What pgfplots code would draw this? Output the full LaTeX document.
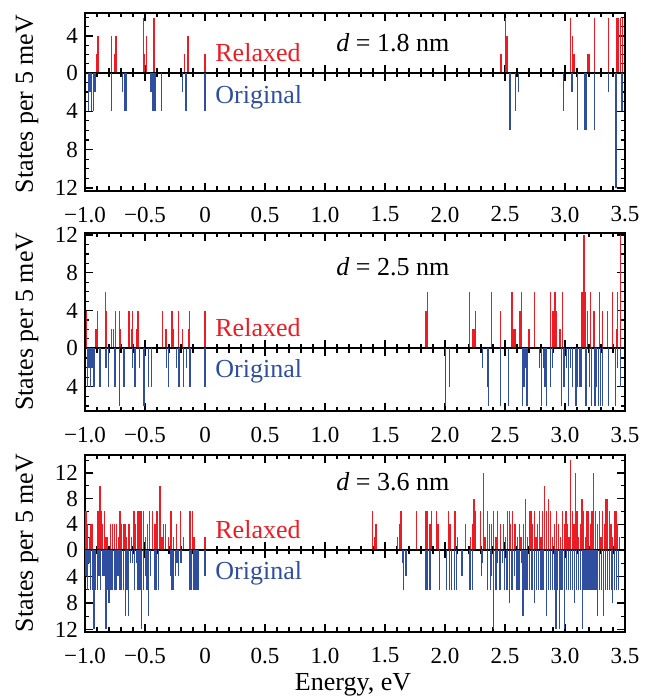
\documentclass[border=0pt]{standalone}
\usepackage{fontspec}
\setmainfont{Liberation Serif}
\usepackage{pgfplots}
\pgfplotsset{compat=1.18}
\definecolor{relred}{RGB}{236,28,36}
\definecolor{origblue}{RGB}{48,78,160}

\pgfplotsset{
  panel/.style={
    scale only axis, width=270pt,
    xmin=-1, xmax=3.5,
    xtick={-1,-0.5,0,0.5,1,1.5,2,2.5,3,3.5},
    minor x tick num=4,
    tick align=inside,
    major tick length=4pt, minor tick length=2.2pt,
    every tick/.style={black, line width=0.6pt},
    axis line style={line width=1pt},
    tick label style={font=\fontsize{11.5}{13}\selectfont},
    clip=true,
  },
  toppanel/.style={panel, anchor=south west, xticklabels={}},
  botpanel/.style={panel, anchor=north west, ymax=0,
    xticklabels={−1.0,−0.5,0,0.5,1.0,1.5,2.0,2.5,3.0,3.5},
    xticklabel style={yshift=-4.5pt}},
  red spikes/.style={ycomb, no marks, relred, line width=0.6pt},
  blue spikes/.style={ycomb, no marks, origblue, line width=0.6pt},
}

\begin{document}
\begin{tikzpicture}
\path[use as bounding box] (-42.5pt,0pt) rectangle (285pt,-349.5pt);

% ---- d = 1.8 nm ----
\begin{axis}[toppanel, at={(0pt,-36.35pt)}, height=30pt,
  ymin=0, ymax=6.54, ytick={0,4}, yticklabels={0,4}, minor ytick={1,2,3,5,6}]
\addplot[red spikes] coordinates {
(-0.903,2) (-0.892,4) (-0.778,4) (-0.756,2) (-0.742,4) (-0.514,6) (-0.506,2)
(-0.486,4) (-0.425,6) (-0.172,2) (-0.142,4) (0.0,2) (2.467,2) (2.505,6)
(2.516,4) (3.047,6) (3.061,4) (3.075,2) (3.189,2) (3.2,2) (3.247,6) (3.364,6)
(3.433,6) (3.447,6) (3.464,6) (3.478,6)};
\end{axis}
\begin{axis}[botpanel, at={(0pt,-36.35pt)}, height=59pt,
  ymin=-12.28, ytick={-12,-8,-4}, yticklabels={12,8,4},
  minor ytick={-11,-10,-9,-7,-6,-5,-3,-2,-1}]
\addplot[blue spikes] coordinates {
(-0.972,-4) (-0.958,-2) (-0.944,-4) (-0.93,-4) (-0.917,-2) (-0.778,-4)
(-0.689,-2) (-0.672,-4) (-0.658,-4) (-0.45,-2) (-0.436,-4) (-0.425,-4)
(-0.417,-4) (-0.361,-4) (-0.186,-2) (-0.158,-4) (0.0,-4) (2.542,-6)
(2.589,-4) (2.614,-2) (2.989,-4) (3.058,-2) (3.106,-6) (3.161,-6) (3.169,-6)
(3.178,-6) (3.244,-6) (3.361,-2) (3.42,-12) (3.425,-12) (3.47,-4) (3.48,-4)};
\end{axis}

% ---- d = 2.5 nm ----
\begin{axis}[toppanel, at={(0pt,-174.15pt)}, height=57.8pt,
  ymin=0, ymax=12.25, ytick={0,4,8,12}, yticklabels={0,4,8,12},
  minor ytick={1,2,3,5,6,7,9,10,11}]
\addplot[red spikes] coordinates {
(-0.986,4) (-0.908,2) (-0.897,4) (-0.828,6) (-0.819,4) (-0.778,2) (-0.764,2)
(-0.744,4) (-0.714,4) (-0.703,2) (-0.639,4) (-0.628,4) (-0.611,2) (-0.603,4)
(-0.569,2) (-0.558,4) (-0.353,4) (-0.325,2) (-0.275,4) (-0.264,2) (-0.222,4)
(-0.189,2) (-0.139,2) (-0.131,4) (0.0,4)
(1.842,4) (1.853,6) (2.206,6) (2.231,2) (2.242,2) (2.253,4) (2.389,6)
(2.464,4) (2.558,6) (2.572,2) (2.583,2) (2.625,4) (2.639,6) (2.7,2) (2.744,6)
(2.878,6) (2.9,4) (2.917,6) (2.931,4) (2.958,2) (2.981,6) (3.139,6) (3.15,6)
(3.158,12) (3.169,6) (3.186,4) (3.214,6) (3.242,4) (3.286,6) (3.311,4)
(3.356,4) (3.394,6) (3.428,2) (3.436,6) (3.464,12)};
\end{axis}
\begin{axis}[botpanel, at={(0pt,-174.15pt)}, height=31.35pt,
  ymin=-6.53, ytick={-4}, yticklabels={4}, minor ytick={-6,-5,-3,-2,-1}]
\addplot[blue spikes] coordinates {
(-0.981,-4) (-0.967,-2) (-0.953,-4) (-0.942,-2) (-0.925,-4) (-0.875,-4)
(-0.831,-2) (-0.819,-2) (-0.806,-4) (-0.75,-4) (-0.714,-6) (-0.675,-4)
(-0.603,-2) (-0.589,-4) (-0.578,-4) (-0.547,-2) (-0.508,-6) (-0.472,-4)
(-0.444,-4) (-0.319,-2) (-0.306,-4) (-0.236,-2) (-0.217,-4) (-0.181,-4)
(-0.153,-2) (-0.125,-4) (0.0,-4)
(2.006,-6) (2.036,-4) (2.314,-2) (2.356,-4) (2.364,-6) (2.464,-6) (2.528,-6)
(2.647,-6) (2.658,-4) (2.669,-2) (2.683,-6) (2.786,-2) (2.803,-6) (2.819,-2)
(2.833,-4) (2.847,-6) (2.878,-4) (2.897,-2) (2.972,-6) (2.992,-4) (3.014,-2)
(3.031,-6) (3.047,-2) (3.064,-4) (3.092,-6) (3.106,-4) (3.119,-4) (3.133,-4)
(3.175,-6) (3.203,-4) (3.222,-6) (3.25,-6) (3.264,-4) (3.281,-6) (3.297,-6)
(3.314,-6) (3.361,-6) (3.422,-6) (3.439,-2) (3.461,-4)};
\end{axis}

% ---- d = 3.6 nm ----
\begin{axis}[toppanel, at={(0pt,-275pt)}, height=47.5pt,
  ymin=0, ymax=14.8, ytick={0,4,8,12}, yticklabels={0,4,8,12},
  minor ytick={2,6,10,14}]
\addplot[red spikes] coordinates {
(-0.992,6) (-0.981,4) (-0.964,2) (-0.95,4) (-0.939,4) (-0.894,6) (-0.883,6)
(-0.875,10) (-0.864,6) (-0.853,4) (-0.836,6) (-0.825,2) (-0.814,2) (-0.786,4)
(-0.769,4) (-0.753,4) (-0.736,4) (-0.719,2) (-0.708,6) (-0.694,4) (-0.681,4)
(-0.667,4) (-0.653,2) (-0.639,4) (-0.628,4) (-0.614,2) (-0.592,6) (-0.578,4)
(-0.564,6) (-0.553,6) (-0.542,6) (-0.531,6) (-0.514,6) (-0.497,2) (-0.478,4)
(-0.464,6) (-0.436,6) (-0.417,4) (-0.4,6) (-0.375,10) (-0.358,2) (-0.344,4)
(-0.328,4) (-0.306,2) (-0.283,6) (-0.264,2) (-0.236,4) (-0.203,6) (-0.181,2)
(-0.131,6) (-0.119,6) (-0.103,6) (-0.092,2) (0.0,2)
(1.397,6) (1.411,2) (1.425,4) (1.606,2) (1.619,4) (1.633,6) (1.764,6)
(1.842,6) (1.856,6) (1.875,4) (1.889,6) (1.931,6) (1.942,4) (2.028,6)
(2.042,4) (2.083,6) (2.103,2) (2.172,4) (2.214,2) (2.228,4) (2.242,8)
(2.256,6) (2.297,6) (2.319,12) (2.333,2) (2.353,6) (2.369,4) (2.389,4)
(2.403,6) (2.425,2) (2.439,6) (2.464,4) (2.486,4) (2.506,2) (2.519,6)
(2.536,6) (2.547,4) (2.564,6) (2.583,4) (2.603,2) (2.619,4) (2.633,2)
(2.653,4) (2.672,8) (2.686,2) (2.703,6) (2.717,6) (2.731,4) (2.744,6)
(2.758,2) (2.772,4) (2.786,6) (2.8,2) (2.814,6) (2.831,10) (2.847,6)
(2.864,8) (2.881,6) (2.897,2) (2.911,4) (2.931,6) (2.947,4) (2.964,2)
(2.981,6) (2.994,4) (3.008,6) (3.019,4) (3.033,2) (3.047,14) (3.061,6)
(3.075,4) (3.086,12) (3.1,6) (3.114,2) (3.128,4) (3.142,8) (3.156,6)
(3.169,2) (3.183,6) (3.197,6) (3.211,4) (3.225,6) (3.239,12) (3.253,6)
(3.269,4) (3.286,6) (3.3,2) (3.314,6) (3.328,4) (3.342,8) (3.356,8)
(3.369,6) (3.383,4) (3.397,2) (3.411,6) (3.425,6) (3.439,4) (3.453,2)};
\end{axis}
\begin{axis}[botpanel, at={(0pt,-275pt)}, height=40.85pt,
  ymin=-12.35, ytick={-12,-8,-4}, yticklabels={12,8,4},
  minor ytick={-10,-6,-2}]
\addplot[blue spikes] coordinates {
(-0.992,-4) (-0.981,-6) (-0.967,-2) (-0.953,-6) (-0.939,-6) (-0.925,-12)
(-0.911,-6) (-0.894,-6) (-0.883,-4) (-0.869,-6) (-0.856,-4) (-0.842,-4)
(-0.825,-12) (-0.811,-6) (-0.8,-8) (-0.783,-6) (-0.769,-6) (-0.756,-6)
(-0.742,-6) (-0.725,-4) (-0.708,-6) (-0.694,-6) (-0.681,-6) (-0.661,-10)
(-0.65,-6) (-0.636,-10) (-0.619,-2) (-0.603,-2) (-0.586,-6) (-0.572,-2)
(-0.558,-6) (-0.542,-6) (-0.528,-12) (-0.514,-6) (-0.497,-4) (-0.483,-6)
(-0.469,-10) (-0.453,-4) (-0.417,-6) (-0.403,-6) (-0.386,-6) (-0.286,-4)
(-0.275,-6) (-0.261,-6) (-0.247,-4) (-0.233,-2) (-0.222,-4) (-0.2,-2)
(-0.125,-6) (-0.111,-6) (-0.092,-6) (-0.075,-6) (-0.058,-6) (0.0,-4)
(1.644,-2) (1.653,-6) (1.675,-4) (1.842,-6) (1.856,-6) (1.875,-6) (1.953,-6)
(2.014,-6) (2.036,-6) (2.056,-6) (2.078,-6) (2.097,-6) (2.142,-4) (2.203,-6)
(2.214,-6) (2.231,-6) (2.306,-4) (2.314,-2) (2.356,-6) (2.381,-6) (2.389,-4)
(2.403,-12) (2.425,-6) (2.439,-2) (2.458,-6) (2.481,-2) (2.494,-6) (2.517,-6)
(2.539,-8) (2.558,-6) (2.578,-4) (2.6,-6) (2.617,-6) (2.636,-2) (2.65,-10)
(2.667,-6) (2.683,-6) (2.706,-6) (2.725,-6) (2.744,-8) (2.761,-6) (2.781,-6)
(2.794,-6) (2.808,-6) (2.822,-6) (2.844,-10) (2.861,-6) (2.878,-6) (2.894,-6)
(2.911,-6) (2.925,-12) (2.939,-6) (2.953,-12) (2.967,-6) (2.981,-6)
(2.997,-12) (3.014,-6) (3.031,-6) (3.047,-6) (3.064,-6) (3.081,-8) (3.097,-6)
(3.114,-6) (3.131,-6) (3.144,-12) (3.158,-6) (3.175,-6) (3.192,-6) (3.208,-6)
(3.225,-6) (3.242,-6) (3.258,-6) (3.272,-10) (3.286,-6) (3.303,-6)
(3.319,-10) (3.336,-6) (3.353,-6) (3.369,-6) (3.386,-6) (3.397,-8)
(3.414,-6) (3.431,-6) (3.447,-6)};
\end{axis}

% labels
\begin{scope}[font=\fontsize{13}{15}\selectfont, inner sep=0pt]
\node[rotate=90] at (-29pt,-52pt) {States per 5 meV};
\node[rotate=90] at (-29pt,-160.9pt) {States per 5 meV};
\node[rotate=90] at (-29pt,-271.5pt) {States per 5 meV};
\node[anchor=base] at (134pt,-345pt) {Energy, eV};
\node[anchor=west] at (125.5pt,-21.5pt) {\textit{d} = 1.8 nm};
\node[anchor=west] at (125.5pt,-133.35pt) {\textit{d} = 2.5 nm};
\node[anchor=west] at (125.5pt,-240.85pt) {\textit{d} = 3.6 nm};
\node[anchor=west, text=relred] at (65pt,-26.5pt) {Relaxed};
\node[anchor=west, text=origblue] at (65pt,-48.5pt) {Original};
\node[anchor=west, text=relred] at (65pt,-164pt) {Relaxed};
\node[anchor=west, text=origblue] at (65pt,-185.85pt) {Original};
\node[anchor=west, text=relred] at (65pt,-265pt) {Relaxed};
\node[anchor=west, text=origblue] at (65pt,-286.5pt) {Original};
\end{scope}
\end{tikzpicture}
\end{document}
